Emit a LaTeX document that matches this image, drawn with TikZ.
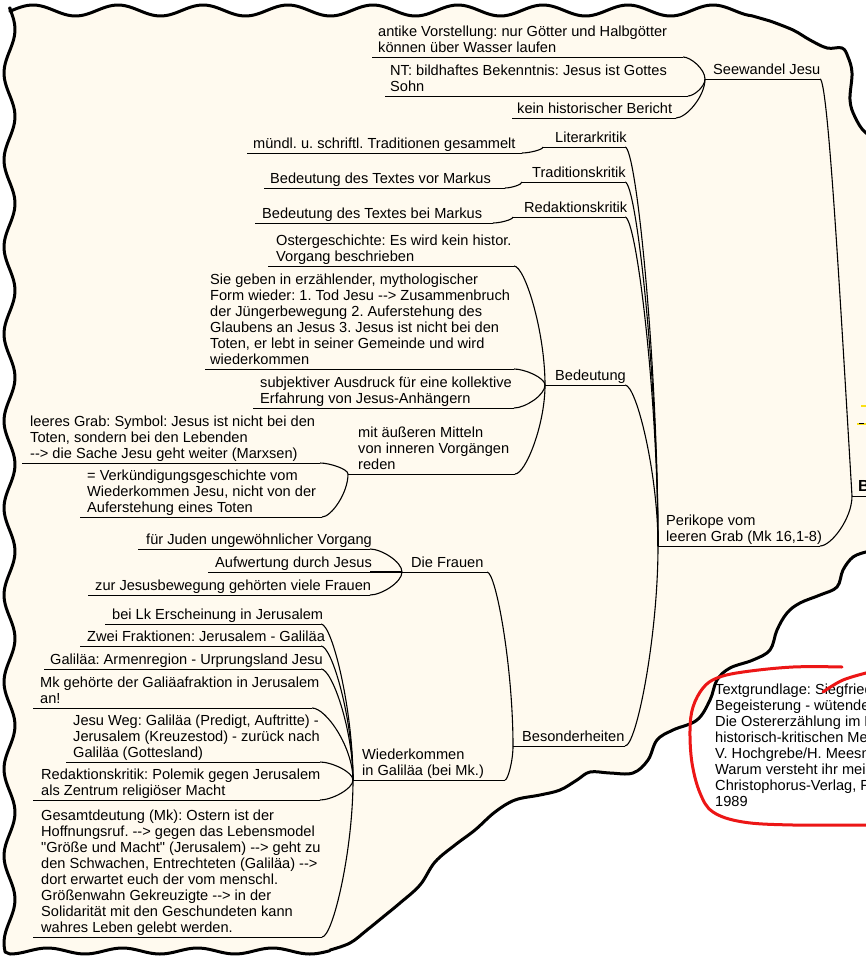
\documentclass[tikz,border=0pt]{standalone}
\usepackage{fontspec}
\newfontfamily\mmfont{Liberation Sans}[Ligatures=TeXOff]
\usetikzlibrary{calc}
\frenchspacing
\definecolor{cream}{RGB}{255,250,239}
\definecolor{mmred}{RGB}{236,22,22}
\definecolor{mmyellow}{RGB}{250,225,20}
\tikzset{
  txt/.style={font=\mmfont\fontsize{14.6}{16}\selectfont\frenchspacing, anchor=south west, inner sep=0pt, align=left, execute at end node={\rule[-4pt]{0pt}{4pt}}},
  ul/.style={line width=0.9pt},
  ln/.style={line width=1.1pt},
  cloudshape/.style={fill=cream, draw=black, line width=3pt, line join=round},
  redloop/.style={draw=mmred, line width=3pt, line cap=round},
}
\newcommand\mmnode[6]{%
  \node[txt] (#1) at (#2,#3) {#6};
  \coordinate (#1L) at (#4,#3);
  \coordinate (#1R) at (#5,#3);
  \draw[ul] (#1L) -- (#1R);}
\newcommand\mmconn[2]{%
  \coordinate (k) at (#2L |- #1R);
  \draw[ln] (#1R) .. controls ($(#1R)!0.35!(k)$) and ($(#2L)!0.45!(k)$) .. (#2L);}
\begin{document}
\begin{tikzpicture}[x=1pt,y=-1pt]
\useasboundingbox (0,0) rectangle (866,961);
\fill[white] (0,0) rectangle (866,961);
\clip (0,0) rectangle (866,961);
% cloud
\path[cloudshape] (10,8)
  -- plot[domain=10:752, samples=220] (\x, {10.5-5.5*cos(4.2353*(\x-33))})
  -- plot[smooth, tension=0.6] coordinates {(770,21) (793,30) (810,40) (827,48) (842,48) (848,57) (852,73) (850,100) (855,117) (866,133) (885,140)}
  -- (885,550)
  -- plot[smooth, tension=0.6] coordinates {(866,552) (853,557) (843,570) (837,587) (820,595) (800,603) (787,613) (777,630) (770,650) (753,660) (730,668) (717,680) (710,700) (697,720) (673,730) (657,740) (648,760) (633,773) (610,773) (590,772) (577,780) (560,790) (540,795) (515,800) (495,812) (475,830) (455,845) (435,862) (420,885) (400,903) (383,917) (367,930) (350,943) (330,950)}
  -- plot[domain=330:10, samples=80] (\x, {951+3*cos(4.8*(\x-10))})
  -- plot[domain=952:8, samples=240] ({9.5-5.5*cos(4.1379*(\x-73))}, \x)
  -- cycle;
% yellow fragments
\draw[mmyellow, line width=1.6pt] (857,424) -- (866,424);
\draw[line width=0.8pt] (859,423) -- (864,423);
\draw[mmyellow, line width=1.2pt] (861,406) -- (866,406);
% root
\node[txt, font=\mmfont\fontsize{16}{18}\selectfont\bfseries] (root) at (858,496) {B};
\coordinate (rootL) at (852,496);
\coordinate (rootR) at (880,496);
\draw[ul] (rootL) -- (rootR);
% main branches
\mmnode{sw}{713}{79}{705}{820}{Seewandel Jesu}
\mmnode{sw1}{378}{57}{372}{683}{antike Vorstellung: nur Götter und Halbgötter\\können über Wasser laufen}
\mmnode{sw2}{390}{96}{385}{688}{NT: bildhaftes Bekenntnis: Jesus ist Gottes\\Sohn}
\mmnode{sw3}{517}{118}{512}{676}{kein historischer Bericht}
\mmnode{pk}{666}{546}{658}{820}{Perikope vom\\leeren Grab (Mk 16,1-8)}
\mmnode{lit}{555}{147}{543}{625}{Literarkritik}
\mmnode{lit1}{253}{153}{247}{522}{mündl. u. schriftl. Traditionen gesammelt}
\mmnode{tra}{532}{182}{522}{625}{Traditionskritik}
\mmnode{tra1}{270}{188}{264}{505}{Bedeutung des Textes vor Markus}
\mmnode{red}{524}{217}{513}{625}{Redaktionskritik}
\mmnode{red1}{262}{223}{255}{493}{Bedeutung des Textes bei Markus}
\mmnode{bed}{555}{385}{545}{625}{Bedeutung}
\mmnode{bed1}{276}{266}{268}{514}{Ostergeschichte: Es wird kein histor.\\Vorgang beschrieben}
\mmnode{bed2}{210}{369}{205}{514}{Sie geben in erzählender, mythologischer\\Form wieder: 1. Tod Jesu --> Zusammenbruch\\der Jüngerbewegung 2. Auferstehung des\\Glaubens an Jesus 3. Jesus ist nicht bei den\\Toten, er lebt in seiner Gemeinde und wird\\wiederkommen}
\mmnode{bed3}{260}{408}{253}{514}{subjektiver Ausdruck für eine kollektive\\Erfahrung von Jesus-Anhängern}
\mmnode{bed4}{358}{474}{348}{515}{mit äußeren Mitteln\\von inneren Vorgängen\\reden}
\mmnode{bed41}{30}{463}{22}{320}{leeres Grab: Symbol: Jesus ist nicht bei den\\Toten, sondern bei den Lebenden\\--> die Sache Jesu geht weiter (Marxsen)}
\mmnode{bed42}{87}{517}{80}{322}{= Verkündigungsgeschichte vom\\Wiederkommen Jesu, nicht von der\\Auferstehung eines Toten}
\mmnode{bes}{522}{746}{513}{625}{Besonderheiten}
\mmnode{fr}{411}{572}{402}{487}{Die Frauen}
\mmnode{fr1}{146}{549}{138}{370}{für Juden ungewöhnlicher Vorgang}
\mmnode{fr2}{215}{572}{208}{370}{Aufwertung durch Jesus}
\mmnode{fr3}{95}{595}{88}{370}{zur Jesusbewegung gehörten viele Frauen}
\mmnode{wk}{362}{780}{353}{505}{Wiederkommen\\in Galiläa (bei Mk.)}
\mmnode{wk1}{112}{624}{105}{321}{bei Lk Erscheinung in Jerusalem}
\mmnode{wk2}{87}{646}{80}{321}{Zwei Fraktionen: Jerusalem - Galiläa}
\mmnode{wk3}{50}{669}{44}{321}{Galiläa: Armenregion - Urprungsland Jesu}
\mmnode{wk4}{40}{708}{33}{312}{Mk gehörte der Galiäafraktion in Jerusalem\\an!}
\mmnode{wk5}{73}{762}{66}{320}{Jesu Weg: Galiläa (Predigt, Auftritte) -\\Jerusalem (Kreuzestod) - zurück nach\\Galiläa (Gottesland)}
\mmnode{wk6}{41}{800}{33}{320}{Redaktionskritik: Polemik gegen Jerusalem\\als Zentrum religiöser Macht}
\mmnode{wk7}{41}{937}{33}{322}{Gesamtdeutung (Mk): Ostern ist der\\Hoffnungsruf. --> gegen das Lebensmodel\\"Größe und Macht" (Jerusalem) --> geht zu\\den Schwachen, Entrechteten (Galiläa) -->\\dort erwartet euch der vom menschl.\\Größenwahn Gekreuzigte --> in der\\Solidarität mit den Geschundeten kann\\wahres Leben gelebt werden.}
% connectors
\draw[ln] (swR) .. controls +(8,0) and +(-12,-200) .. (rootL);
\mmconn{pk}{root}
\mmconn{sw1}{sw}
\mmconn{sw2}{sw}
\mmconn{sw3}{sw}
\mmconn{lit}{pk}
\mmconn{tra}{pk}
\mmconn{red}{pk}
\mmconn{bed}{pk}
\mmconn{bes}{pk}
\mmconn{lit1}{lit}
\mmconn{tra1}{tra}
\mmconn{red1}{red}
\mmconn{bed1}{bed}
\mmconn{bed2}{bed}
\mmconn{bed3}{bed}
\mmconn{bed4}{bed}
\mmconn{bed41}{bed4}
\mmconn{bed42}{bed4}
\mmconn{fr}{bes}
\mmconn{wk}{bes}
\mmconn{fr1}{fr}
\mmconn{fr2}{fr}
\mmconn{fr3}{fr}
\mmconn{wk1}{wk}
\mmconn{wk2}{wk}
\mmconn{wk3}{wk}
\mmconn{wk4}{wk}
\mmconn{wk5}{wk}
\mmconn{wk6}{wk}
\mmconn{wk7}{wk}
% source note
\node[txt] (src) at (715,811) {Textgrundlage: Siegfried\\Begeisterung - wütende\\Die Ostererzählung im L\\historisch-kritischen Me\\V. Hochgrebe/H. Meesm\\Warum versteht ihr mei\\Christophorus-Verlag, F\\1989};
\draw[redloop] plot[smooth, tension=0.6] coordinates {(842,667) (793,667) (743,672) (717,678) (703,688) (693,707) (690,730) (692,763) (700,793) (713,812) (743,822) (793,825) (870,825)};
\draw[redloop] plot[smooth, tension=0.6] coordinates {(823,692) (843,680) (870,672)};
\end{tikzpicture}
\end{document}
